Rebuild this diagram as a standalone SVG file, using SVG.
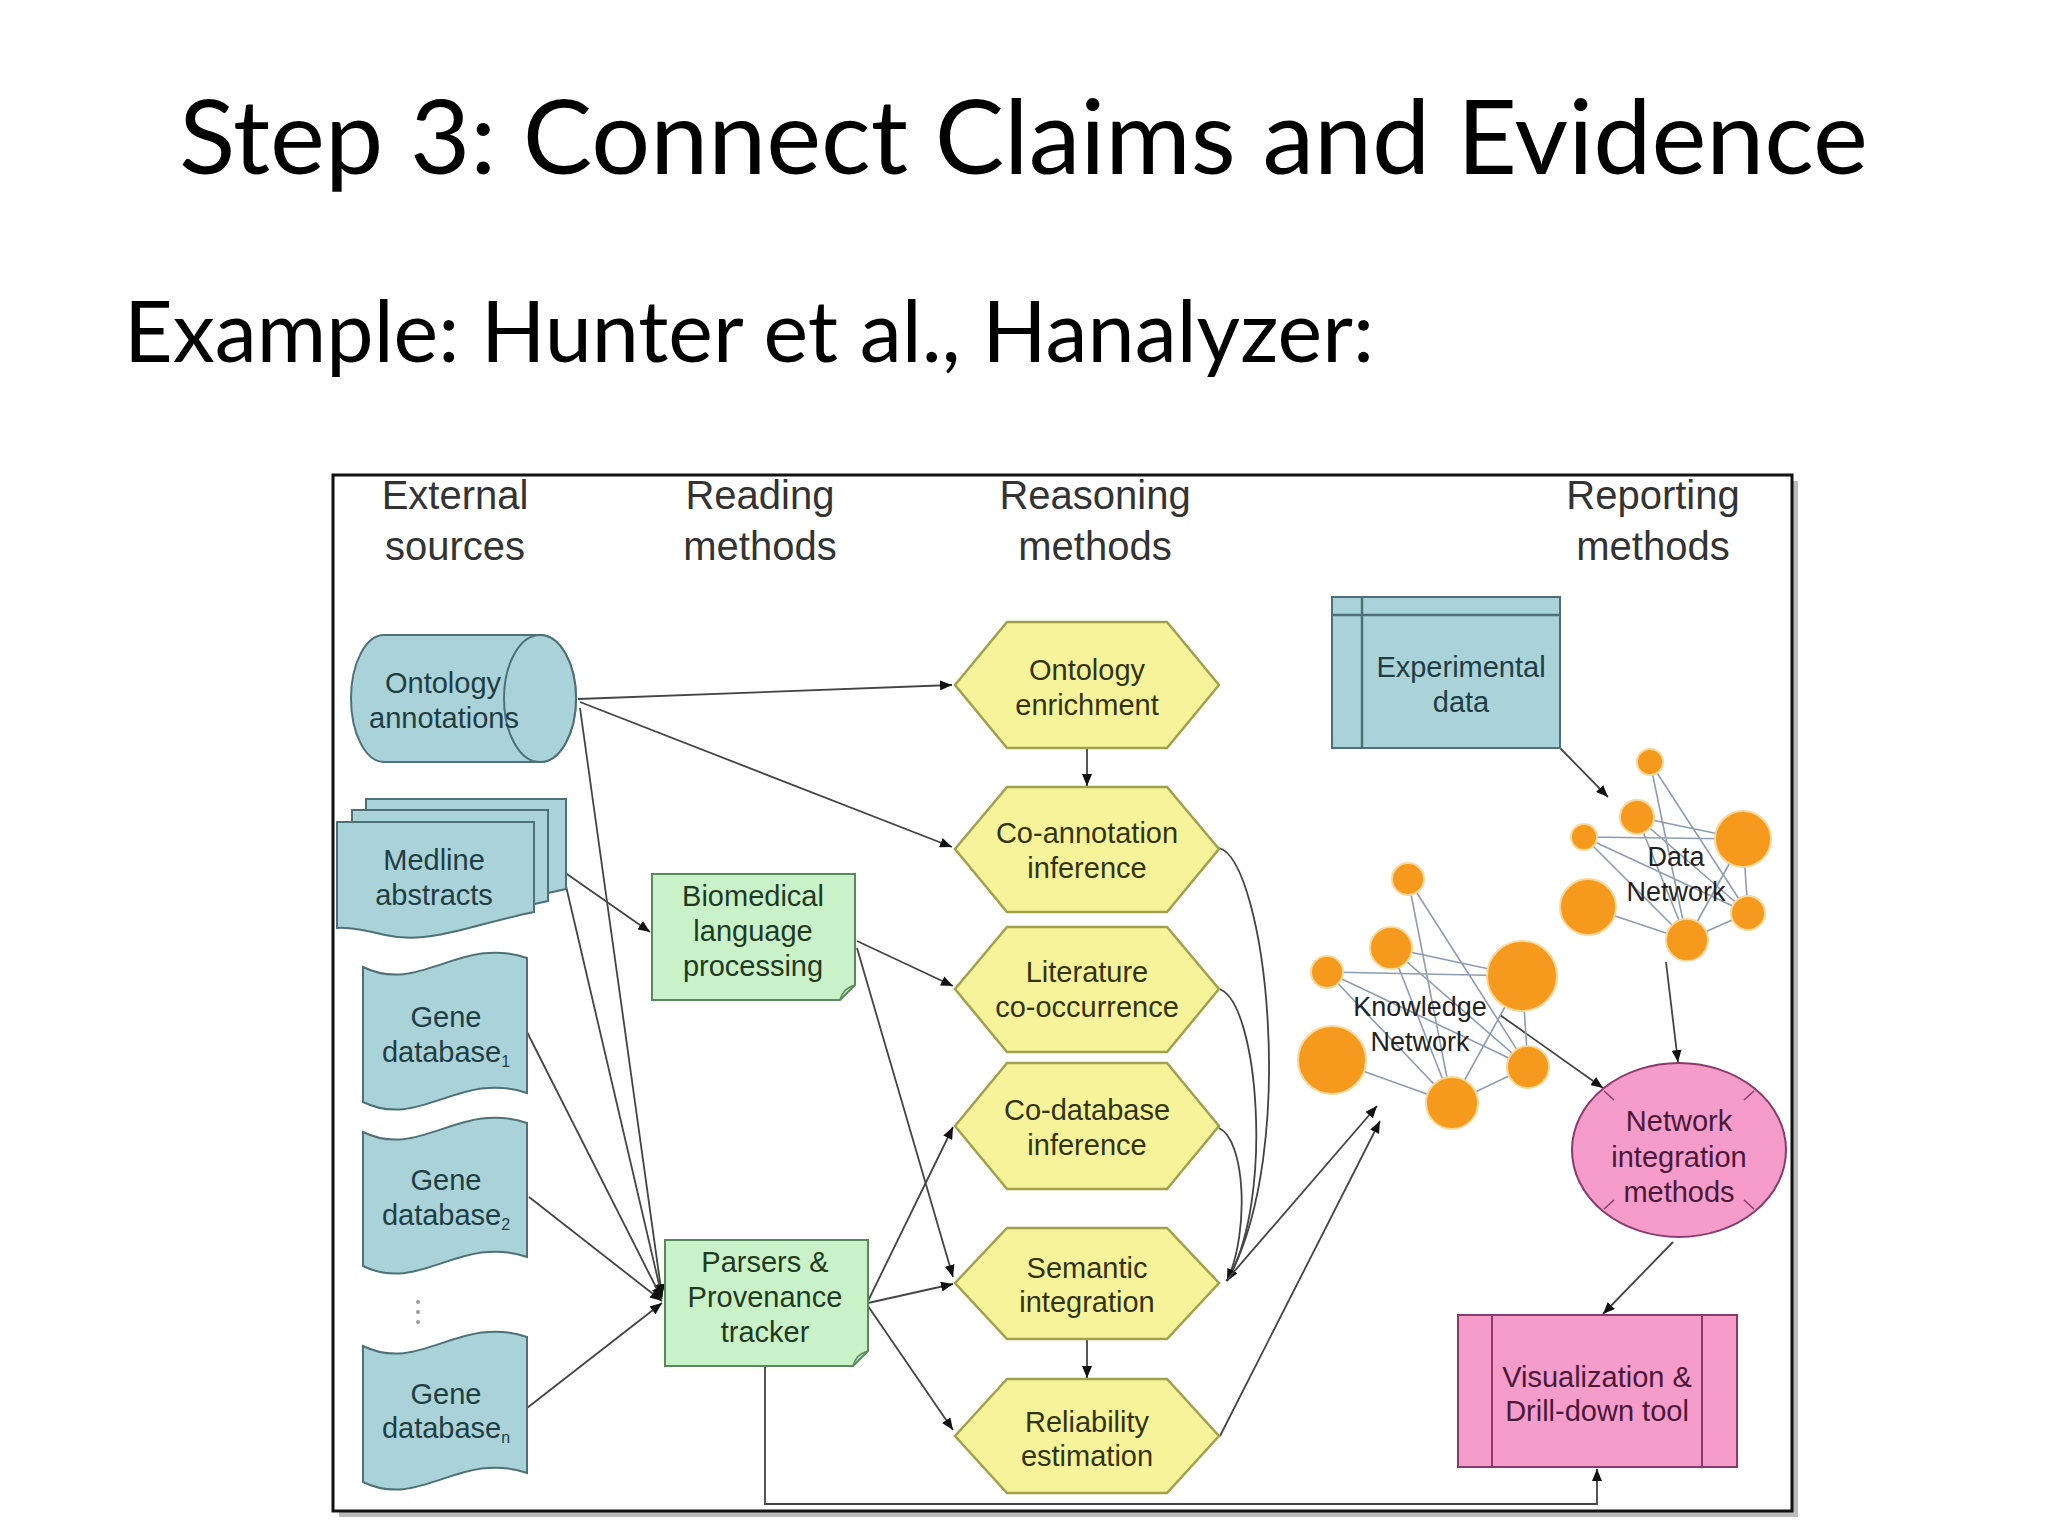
<svg xmlns="http://www.w3.org/2000/svg" width="2048" height="1536" viewBox="0 0 2048 1536">
<defs>
<marker id="ah" viewBox="0 0 12 10" refX="12" refY="5" markerWidth="12" markerHeight="10" markerUnits="userSpaceOnUse" orient="auto">
<path d="M0,0 L12,5 L0,10 z" fill="#111"/>
</marker>
<style>
.title{font-family:Lato,"Open Sans",sans-serif;fill:#000}
.hdr{font-family:"Liberation Sans",Arial,sans-serif;font-size:40px;fill:#333;text-anchor:middle}
.lbl{font-family:"Liberation Sans",Arial,sans-serif;font-size:29px;text-anchor:middle}
.teal{fill:#a9d3d9;stroke:#4d7177;stroke-width:2}
.tealt{fill:#1f3d43}
.green{fill:#c9f2c9;stroke:#5a8a5a;stroke-width:2}
.greent{fill:#1f3a1f}
.hex{fill:#f6f39a;stroke:#a3a04c;stroke-width:2.5}
.hext{fill:#33330f}
.pink{fill:#f59cca;stroke:#8a3a6b;stroke-width:2}
.pinkt{fill:#4a1838}
.conn{fill:none;stroke:#444;stroke-width:1.8}
.arr{marker-end:url(#ah)}
.edge{stroke:#8d9cb2;stroke-width:1.6;fill:none}
.dot{fill:#f59a1c;stroke:#fcd79a;stroke-width:2}
.netl{font-family:"Liberation Sans",Arial,sans-serif;font-size:27px;fill:#222;text-anchor:middle}
</style>
</defs>
<rect width="2048" height="1536" fill="#fff"/>

<text class="title" x="179" y="174" font-size="102" textLength="1689" lengthAdjust="spacingAndGlyphs">Step 3: Connect Claims and Evidence</text>
<text class="title" x="124" y="362" font-size="86" textLength="1250" lengthAdjust="spacingAndGlyphs">Example: Hunter et al., Hanalyzer:</text>

<g id="frame">
<rect x="339" y="481" width="1459" height="1036" fill="#bbb"/>
<rect x="333" y="475" width="1459" height="1036" fill="#fff" stroke="#111" stroke-width="3"/>
</g>

<g id="headers">
<text class="hdr" x="455" y="509">External</text>
<text class="hdr" x="455" y="560">sources</text>
<text class="hdr" x="760" y="509">Reading</text>
<text class="hdr" x="760" y="560">methods</text>
<text class="hdr" x="1095" y="509">Reasoning</text>
<text class="hdr" x="1095" y="560">methods</text>
<text class="hdr" x="1653" y="509">Reporting</text>
<text class="hdr" x="1653" y="560">methods</text>
</g>

<g id="connectors">
<path class="conn arr" d="M578,699 L952,685"/>
<path class="conn arr" d="M580,702 L952,847"/>
<path class="conn arr" d="M580,708 L662,1296"/>
<path class="conn arr" d="M564,872 L650,932"/>
<path class="conn arr" d="M566,886 L662,1297"/>
<path class="conn arr" d="M527,1032 L662,1299"/>
<path class="conn arr" d="M529,1197 L662,1301"/>
<path class="conn arr" d="M527,1408 L662,1303"/>
<path class="conn arr" d="M857,941 L953,986"/>
<path class="conn arr" d="M857,948 L953,1277"/>
<path class="conn arr" d="M868,1301 L953,1127"/>
<path class="conn arr" d="M868,1303 L953,1284"/>
<path class="conn arr" d="M868,1306 L953,1430"/>
<path class="conn arr" d="M765,1366 V1504 H1597 V1469"/>
<path class="conn arr" d="M1087,748 V786"/>
<path class="conn arr" d="M1087,1339 V1378"/>
<path class="conn arr" d="M1219,848 C1265,860 1300,1150 1227,1281"/>
<path class="conn arr" d="M1219,989 C1258,1000 1275,1200 1227,1281"/>
<path class="conn arr" d="M1219,1128 C1245,1140 1250,1230 1227,1281"/>
<path class="conn arr" d="M1226,1281 L1377,1106"/>
<path class="conn arr" d="M1220,1436 L1380,1121"/>
<path class="conn arr" d="M1560,748 L1608,797"/>
<path class="conn arr" d="M1500,1015 L1603,1088"/>
<path class="conn arr" d="M1666,962 L1678,1062"/>
<path class="conn arr" d="M1673,1242 L1603,1314"/>
</g>

<g id="ontology-annotations">
<path class="teal" d="M384,635 H540 A36,63.5 0 0 1 540,762 H384 A33,63.5 0 0 1 384,635 Z"/>
<ellipse class="teal" cx="540" cy="698.5" rx="36" ry="63.5"/>
<text class="lbl tealt" x="443" y="693">Ontology</text>
<text class="lbl tealt" x="444" y="728">annotations</text>
</g>

<g id="medline-abstracts">
<path class="teal" d="M366,799 H566 V889 C520,900 480,905 420,900 L366,898 Z"/>
<path class="teal" d="M352,810 H548 V901 C500,912 470,918 420,912 L352,910 Z"/>
<path class="teal" d="M337,822 H534 V912 C470,925 430,945 385,935 C360,929 345,927 337,928 Z"/>
<text class="lbl tealt" x="434" y="870">Medline</text>
<text class="lbl tealt" x="434" y="905">abstracts</text>
</g>

<g id="gene-db-1">
<path class="teal" d="M363,967 C420,995 460,935 527,958 V1093 C460,1070 420,1130 363,1102 Z"/>
<text class="lbl tealt" x="446" y="1027">Gene</text>
<text class="lbl tealt" x="446" y="1062">database<tspan font-size="16" dy="5">1</tspan></text>
</g>
<g id="gene-db-2">
<path class="teal" d="M363,1132 C420,1160 460,1100 527,1123 V1257 C460,1234 420,1294 363,1266 Z"/>
<text class="lbl tealt" x="446" y="1190">Gene</text>
<text class="lbl tealt" x="446" y="1225">database<tspan font-size="16" dy="5">2</tspan></text>
</g>
<g id="dots">
<circle cx="418" cy="1302" r="2" fill="#999"/>
<circle cx="418" cy="1312" r="2" fill="#999"/>
<circle cx="418" cy="1322" r="2" fill="#999"/>
</g>
<g id="gene-db-n">
<path class="teal" d="M363,1346 C420,1374 460,1314 527,1337 V1473 C460,1450 420,1510 363,1482 Z"/>
<text class="lbl tealt" x="446" y="1404">Gene</text>
<text class="lbl tealt" x="446" y="1438">database<tspan font-size="16" dy="5">n</tspan></text>
</g>

<g id="biomedical-language-processing">
<path class="green" d="M652,874 H855 V985 L840,1000 H652 Z"/>
<path d="M840,1000 C842,992 846,988 855,985" fill="none" stroke="#5a8a5a" stroke-width="1.5"/>
<text class="lbl greent" x="753" y="906">Biomedical</text>
<text class="lbl greent" x="753" y="941">language</text>
<text class="lbl greent" x="753" y="976">processing</text>
</g>

<g id="parsers-provenance">
<path class="green" d="M665,1240 H868 V1351 L853,1366 H665 Z"/>
<path d="M853,1366 C855,1358 859,1354 868,1351" fill="none" stroke="#5a8a5a" stroke-width="1.5"/>
<text class="lbl greent" x="765" y="1272">Parsers &amp;</text>
<text class="lbl greent" x="765" y="1307">Provenance</text>
<text class="lbl greent" x="765" y="1342">tracker</text>
</g>

<g id="ontology-enrichment">
<polygon class="hex" points="955,685 1007,622 1167,622 1219,685 1167,748 1007,748"/>
<text class="lbl hext" x="1087" y="680">Ontology</text>
<text class="lbl hext" x="1087" y="715">enrichment</text>
</g>
<g id="co-annotation-inference">
<polygon class="hex" points="955,849 1007,787 1167,787 1219,849 1167,912 1007,912"/>
<text class="lbl hext" x="1087" y="843">Co-annotation</text>
<text class="lbl hext" x="1087" y="878">inference</text>
</g>
<g id="literature-co-occurrence">
<polygon class="hex" points="955,989 1007,927 1167,927 1219,989 1167,1052 1007,1052"/>
<text class="lbl hext" x="1087" y="982">Literature</text>
<text class="lbl hext" x="1087" y="1017">co-occurrence</text>
</g>
<g id="co-database-inference">
<polygon class="hex" points="955,1126 1007,1063 1167,1063 1219,1126 1167,1189 1007,1189"/>
<text class="lbl hext" x="1087" y="1120">Co-database</text>
<text class="lbl hext" x="1087" y="1155">inference</text>
</g>
<g id="semantic-integration">
<polygon class="hex" points="955,1283 1007,1228 1167,1228 1219,1283 1167,1339 1007,1339"/>
<text class="lbl hext" x="1087" y="1278">Semantic</text>
<text class="lbl hext" x="1087" y="1312">integration</text>
</g>
<g id="reliability-estimation">
<polygon class="hex" points="955,1436 1007,1379 1167,1379 1219,1436 1167,1493 1007,1493"/>
<text class="lbl hext" x="1087" y="1432">Reliability</text>
<text class="lbl hext" x="1087" y="1466">estimation</text>
</g>

<g id="experimental-data">
<rect class="teal" x="1332" y="597" width="228" height="151"/>
<line x1="1332" y1="615" x2="1560" y2="615" stroke="#4d7177" stroke-width="2.5"/>
<line x1="1362" y1="597" x2="1362" y2="748" stroke="#4d7177" stroke-width="2.5"/>
<text class="lbl tealt" x="1461" y="677">Experimental</text>
<text class="lbl tealt" x="1461" y="712">data</text>
</g>

<g id="data-network">
<path class="edge" d="M1650,762 L1687,940 M1650,762 L1748,913 M1637,817 L1743,839 M1637,817 L1687,940 M1584,837 L1743,839 M1584,837 L1687,940 M1584,837 L1748,913 M1588,907 L1687,940 M1687,940 L1748,913 M1743,839 L1748,913 M1637,817 L1748,913 M1743,839 L1687,940"/>
<circle class="dot" cx="1650" cy="762" r="13"/>
<circle class="dot" cx="1637" cy="817" r="17"/>
<circle class="dot" cx="1584" cy="837" r="13"/>
<circle class="dot" cx="1743" cy="839" r="28"/>
<circle class="dot" cx="1588" cy="907" r="28"/>
<circle class="dot" cx="1687" cy="940" r="21"/>
<circle class="dot" cx="1748" cy="913" r="17"/>
<text class="netl" x="1676" y="866">Data</text>
<text class="netl" x="1676" y="901">Network</text>
</g>

<g id="knowledge-network">
<path class="edge" d="M1408,879 L1452,1103 M1408,879 L1528,1067 M1327,972 L1522,976 M1391,948 L1522,976 M1327,972 L1452,1103 M1327,972 L1528,1067 M1391,948 L1452,1103 M1391,948 L1528,1067 M1332,1060 L1452,1103 M1452,1103 L1528,1067 M1522,976 L1528,1067 M1522,976 L1452,1103"/>
<circle class="dot" cx="1408" cy="879" r="16"/>
<circle class="dot" cx="1391" cy="948" r="21"/>
<circle class="dot" cx="1327" cy="972" r="16"/>
<circle class="dot" cx="1522" cy="976" r="35"/>
<circle class="dot" cx="1332" cy="1060" r="34"/>
<circle class="dot" cx="1452" cy="1103" r="26"/>
<circle class="dot" cx="1528" cy="1067" r="21"/>
<text class="netl" x="1420" y="1016">Knowledge</text>
<text class="netl" x="1420" y="1051">Network</text>
</g>

<g id="network-integration-methods">
<ellipse class="pink" cx="1679" cy="1150" rx="107" ry="87"/>
<path d="M1604,1091 L1614,1100 M1754,1091 L1744,1100 M1604,1209 L1614,1200 M1754,1209 L1744,1200" stroke="#8a3a6b" stroke-width="1.5"/>
<text class="lbl pinkt" x="1679" y="1131">Network</text>
<text class="lbl pinkt" x="1679" y="1167">integration</text>
<text class="lbl pinkt" x="1679" y="1202">methods</text>
</g>

<g id="visualization-drill-down">
<rect class="pink" x="1458" y="1315" width="279" height="152"/>
<line x1="1492" y1="1315" x2="1492" y2="1467" stroke="#8a3a6b" stroke-width="2"/>
<line x1="1702" y1="1315" x2="1702" y2="1467" stroke="#8a3a6b" stroke-width="2"/>
<text class="lbl pinkt" x="1597" y="1387">Visualization &amp;</text>
<text class="lbl pinkt" x="1597" y="1421">Drill-down tool</text>
</g>
</svg>
